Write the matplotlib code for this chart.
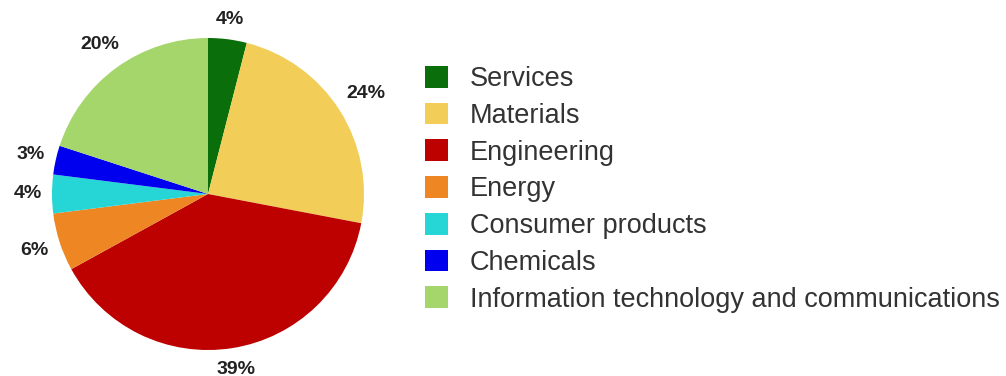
import numpy as np
import matplotlib.pyplot as plt

# Share of projects by sector
sectors = ['Services', 'Materials', 'Engineering', 'Energy',
           'Consumer products', 'Chemicals',
           'Information technology and communications']
shares = [4, 24, 39, 6, 4, 3, 20]
colors = ['#0a6e0a', '#f2cd58', '#bd0000', '#ee8624',
          '#26d6d6', '#0000ee', '#a4d66c']

plt.rcParams['font.family'] = ['Liberation Sans', 'DejaVu Sans']

fig = plt.figure(figsize=(10.06, 3.76), dpi=100)
ax = fig.add_axes([0, 0, 1, 1])

# data units = pixels, so the pie can sit where it sits in the reference
cx, cy, r = 208, 182, 156
wedges, texts, pct = ax.pie(shares, colors=colors, startangle=90,
                            counterclock=False, center=(cx, cy), radius=r,
                            autopct='%d%%', pctdistance=1.0,
                            wedgeprops=dict(linewidth=0),
                            textprops=dict(fontsize=14, fontweight='bold',
                                           color='#222222'),
                            frame=True)
ax.set_xlim(0, 1006)
ax.set_ylim(0, 376)
ax.set_aspect('equal')
ax.axis('off')

# push each percent label just outside the rim, taking its size into account
fig.canvas.draw()
renderer = fig.canvas.get_renderer()
gap = 10
for w, t in zip(wedges, pct):
    ang = np.deg2rad((w.theta1 + w.theta2) / 2)
    ux, uy = np.cos(ang), np.sin(ang)
    bb = t.get_window_extent(renderer)
    d = r + gap + 0.5 * (abs(ux) * bb.width + abs(uy) * bb.height)
    t.set_position((cx + d * ux, cy + d * uy))

leg = fig.legend(wedges, sectors, loc='upper left',
                 bbox_to_anchor=(425 / 1006, 1 - 66 / 376),
                 frameon=False, fontsize=19.5, borderpad=0, borderaxespad=0,
                 handlelength=0.85, handleheight=0.85, handletextpad=0.8,
                 labelspacing=0.39)
for t in leg.get_texts():
    t.set_color('#333333')

fig.savefig('out.png', dpi=100)
